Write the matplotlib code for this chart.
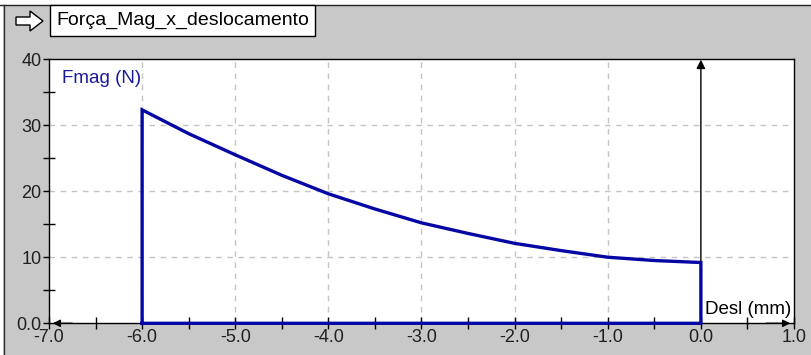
import matplotlib
matplotlib.use("Agg")
import matplotlib.pyplot as plt
from matplotlib.patches import Rectangle, Polygon
from matplotlib.lines import Line2D

# Magnetic force versus displacement
desl_mm = [-6.0, -5.5, -5.0, -4.5, -4.0, -3.5, -3.0, -2.5, -2.0, -1.5, -1.0, -0.5, 0.0]
fmag_n = [32.3, 28.7, 25.5, 22.4, 19.6, 17.3, 15.2, 13.6, 12.1, 11.0, 10.0, 9.5, 9.2]

x_ticks = [-7.0, -6.0, -5.0, -4.0, -3.0, -2.0, -1.0, 0.0, 1.0]
x_tick_labels = ["-7.0", "-6.0", "-5.0", "-4.0", "-3.0", "-2.0", "-1.0", "0.0", "1.0"]
y_ticks = [0, 10, 20, 30, 40]
y_tick_labels = ["0.0", "10", "20", "30", "40"]

title_text = "Força_Mag_x_deslocamento"
y_label = "Fmag (N)"
x_label = "Desl (mm)"

W, H = 812, 355
FONT = "Liberation Sans"
BG = "#C8C8C8"
CURVE = "#0606A4"

fig = plt.figure(figsize=(W / 100, H / 100), dpi=100, facecolor=BG)


def fx(px):
    return px / W


def fy(py):
    return 1 - py / H


# window frame: thin white strips and dark border lines
fig.patches.append(Rectangle((0, fy(4.5)), 1, 4.5 / H, transform=fig.transFigure,
                             facecolor="white", edgecolor="none", zorder=0))
fig.patches.append(Rectangle((0, 0), fx(3.5), 1, transform=fig.transFigure,
                             facecolor="white", edgecolor="none", zorder=0))
fig.lines.append(Line2D([0, 1], [fy(5), fy(5)], transform=fig.transFigure,
                        color="#202020", lw=1.0))
fig.lines.append(Line2D([fx(4), fx(4)], [0, fy(5)], transform=fig.transFigure,
                        color="#303030", lw=1.0))

# title box with arrow icon
fig.patches.append(Rectangle((fx(50.5), fy(36)), fx(315) - fx(50.5), fy(5) - fy(36),
                             transform=fig.transFigure, facecolor="white",
                             edgecolor="black", lw=1.0, zorder=2))
fig.text(fx(56), fy(20.5), title_text, ha="left", va="center",
         fontsize=14, family=FONT, color="black", zorder=3)
icon = [(16, 17), (30, 17), (30, 11), (43, 21), (30, 31), (30, 25), (16, 25)]
fig.patches.append(Polygon([(fx(a), fy(b)) for a, b in icon], closed=True,
                           transform=fig.transFigure, facecolor="white",
                           edgecolor="black", lw=1.0, zorder=2))

# plot area
left, right, top, bottom = 49, 794, 59, 323.3
ax = fig.add_axes([fx(left), fy(bottom), fx(right) - fx(left), fy(top) - fy(bottom)])
ax.set_facecolor("white")
ax.set_xlim(-7, 1)
ax.set_ylim(0, 40)

for s in ax.spines.values():
    s.set_color("black")
    s.set_linewidth(1.0)

ax.set_xticks(x_ticks)
ax.set_xticklabels(x_tick_labels, family=FONT, fontsize=13, color="#202020")
ax.set_xticks([v + 0.5 for v in x_ticks[:-1]], minor=True)
ax.set_yticks(y_ticks)
ax.set_yticklabels(y_tick_labels, family=FONT, fontsize=13, color="#202020")
ax.set_yticks([5, 15, 25, 35], minor=True)
ax.tick_params(axis="x", which="both", direction="inout", length=8, width=1.0,
               color="black", pad=0)
ax.tick_params(axis="y", which="major", direction="out", length=4.5, width=1.0,
               color="black", pad=1)
ax.tick_params(axis="y", which="minor", direction="inout", length=8.5, width=1.0,
               color="black")

# dashed grid
for gx in x_ticks[1:-2]:
    ax.axvline(gx, color="#C4C4C4", lw=1.0, ls=(0, (4, 4)), zorder=1)
for gy in y_ticks[1:-1]:
    ax.axhline(gy, color="#C4C4C4", lw=1.0, ls=(0, (4, 4)), zorder=1)

# vertical reference axis at x = 0 with arrow
ax.annotate("", xy=(0, 39.9), xytext=(0, 0),
            arrowprops=dict(arrowstyle="-|>", color="black", lw=1.0,
                            mutation_scale=13, shrinkA=0, shrinkB=0), zorder=3)
# arrowheads on the horizontal axis
ax.annotate("", xy=(0.96, 0), xytext=(0.7, 0),
            arrowprops=dict(arrowstyle="-|>", color="black", lw=1.0,
                            mutation_scale=11, shrinkA=0, shrinkB=0),
            annotation_clip=False, zorder=3)
ax.annotate("", xy=(-6.96, 0), xytext=(-6.75, 0),
            arrowprops=dict(arrowstyle="-|>", color="black", lw=1.0,
                            mutation_scale=11, shrinkA=0, shrinkB=0),
            annotation_clip=False, zorder=3)

# force outline: rise at start, curve, drop at end, back along the axis
xs = [desl_mm[0]] + desl_mm + [desl_mm[-1], desl_mm[0]]
ys = [0] + fmag_n + [0, 0]
ax.plot(xs, ys, color=CURVE, lw=2.4, solid_joinstyle="miter", clip_on=False, zorder=4)

ax.text(0.018, 0.96, y_label, transform=ax.transAxes, ha="left", va="top",
        fontsize=13.5, family=FONT, color="#1A1A9A")
ax.text(0.88, 0.02, x_label, transform=ax.transAxes, ha="left", va="bottom",
        fontsize=13.5, family=FONT, color="black")

fig.savefig("out.png", dpi=100, facecolor=BG)
